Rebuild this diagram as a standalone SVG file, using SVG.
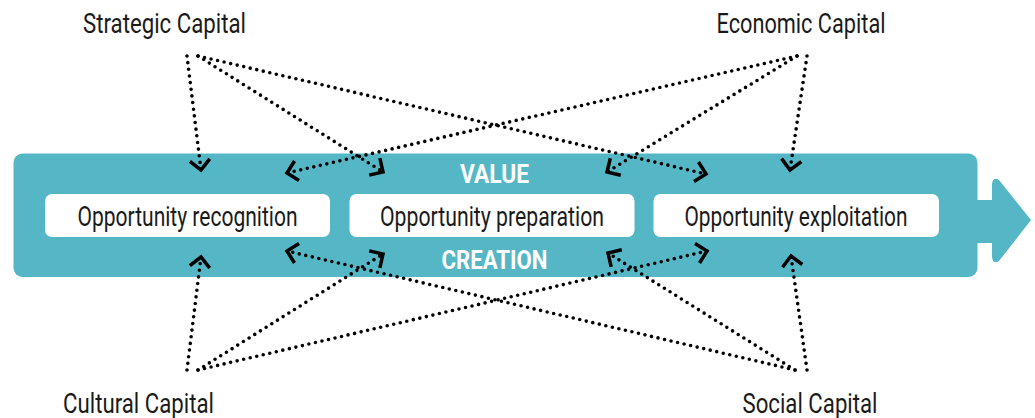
<svg xmlns="http://www.w3.org/2000/svg" width="1035" height="418" viewBox="0 0 1035 418">
<style>
.band{fill:#55b7c6}
.box{fill:#ffffff}
.lbl{font-family:Roboto,"Liberation Sans",sans-serif;font-size:27px;fill:#1a1a1a}
.node{font-family:Roboto,"Liberation Sans",sans-serif;font-size:27px;fill:#1a1a1a;text-anchor:middle}
.hdr{font-family:Roboto,"Liberation Sans",sans-serif;font-size:25px;font-weight:bold;fill:#ffffff;text-anchor:middle}
.dot{fill:none;stroke:#000;stroke-width:3.6;stroke-linecap:round;stroke-dasharray:0 6.7;marker-end:url(#chev)}
</style>
<defs>
<marker id="chev" markerUnits="userSpaceOnUse" markerWidth="30" markerHeight="30" viewBox="-15 -15 30 30" refX="0" refY="0" orient="auto" overflow="visible">
<path d="M-10,-10 L0,0 L-10,10" fill="none" stroke="#000" stroke-width="3.5" stroke-linejoin="miter"/>
</marker>
</defs>
<g id="band">
<rect class="band" x="13.5" y="153.5" width="964" height="123.5" rx="9"/>
<path class="band" d="M970,200 L992,200 L992,184 Q993,176 999,180 L1031,220 L999,261 Q993,265 992,257 L992,243 L970,243 Z"/>
<text class="hdr" x="494.5" y="183" textLength="69" lengthAdjust="spacingAndGlyphs">VALUE</text>
<text class="hdr" x="494.5" y="269" textLength="106" lengthAdjust="spacingAndGlyphs">CREATION</text>
</g>
<g id="node-recognition">
<rect class="box" x="45" y="194" width="285" height="43" rx="7"/>
<text class="node" x="187.5" y="225.5" textLength="220" lengthAdjust="spacingAndGlyphs">Opportunity recognition</text>
</g>
<g id="node-preparation">
<rect class="box" x="349.5" y="194" width="285" height="43" rx="7"/>
<text class="node" x="492" y="225.5" textLength="224" lengthAdjust="spacingAndGlyphs">Opportunity preparation</text>
</g>
<g id="node-exploitation">
<rect class="box" x="653.5" y="194" width="285.5" height="43" rx="7"/>
<text class="node" x="796" y="225.5" textLength="223" lengthAdjust="spacingAndGlyphs">Opportunity exploitation</text>
</g>
<g id="node-strategic">
<text class="lbl" x="83" y="33" textLength="163" lengthAdjust="spacingAndGlyphs">Strategic Capital</text>
</g>
<g id="node-economic">
<text class="lbl" x="716.5" y="33" textLength="169" lengthAdjust="spacingAndGlyphs">Economic Capital</text>
</g>
<g id="node-cultural">
<text class="lbl" x="63" y="413" textLength="151" lengthAdjust="spacingAndGlyphs">Cultural Capital</text>
</g>
<g id="node-social">
<text class="lbl" x="742.5" y="413" textLength="135" lengthAdjust="spacingAndGlyphs">Social Capital</text>
</g>
<g id="connectors">
<path class="dot" d="M187,56 L201,170"/>
<path class="dot" d="M198,56 L383,172"/>
<path class="dot" d="M198,56 L706,174"/>
<path class="dot" d="M807,56 L790,170"/>
<path class="dot" d="M797,56 L607,172"/>
<path class="dot" d="M797,56 L287,173"/>
<path class="dot" d="M187,370 L201,257"/>
<path class="dot" d="M198,370 L383,254"/>
<path class="dot" d="M198,370 L707,251"/>
<path class="dot" d="M807,370 L791,256"/>
<path class="dot" d="M795,370 L608,253"/>
<path class="dot" d="M795,370 L287,251"/>
</g>
</svg>
